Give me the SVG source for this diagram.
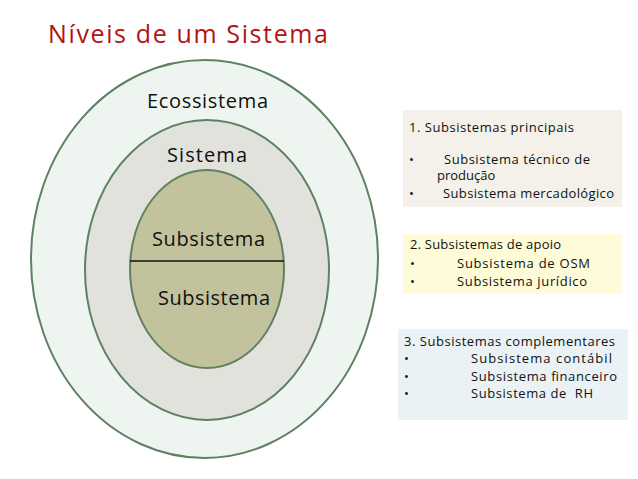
<svg xmlns="http://www.w3.org/2000/svg" width="638" height="479" viewBox="0 0 638 479">
<style>
.t{font-family:"Open Sans","Liberation Sans",sans-serif;fill:#111}
.lbl{font-size:20px}
.bx{font-size:13px}
.ring{stroke:#5e8063;stroke-width:2}
</style>
<rect width="638" height="479" fill="#ffffff"/>
<text x="48" y="43" font-family="Open Sans,Liberation Sans,sans-serif" font-size="25" fill="#b01414" textLength="280">Níveis de um Sistema</text>
<g id="ecossistema">
<ellipse cx="204.5" cy="259" rx="173.5" ry="199" fill="#eef5f0" class="ring"/>
<text class="t lbl" x="147" y="108" textLength="121">Ecossistema</text>
</g>
<g id="sistema">
<ellipse cx="207" cy="270" rx="122" ry="150" fill="#e2e2dd" class="ring"/>
<text class="t lbl" x="167" y="162" textLength="80">Sistema</text>
</g>
<g id="subsistema">
<ellipse cx="207" cy="269" rx="77" ry="99" fill="#c2c29c" class="ring"/>
<text class="t lbl" x="152" y="246" textLength="113">Subsistema</text>
<text class="t lbl" x="158" y="305" textLength="112">Subsistema</text>
</g>
<g id="connectors">
<line x1="130" y1="261" x2="284" y2="261" stroke="#111" stroke-width="1.3"/>
</g>
<g id="box1">
<rect x="403" y="110" width="219" height="97" fill="#f3f1e9"/>
<text class="t bx" x="409" y="132" textLength="165">1. Subsistemas principais</text>
<text class="t bx" x="409" y="164">•</text>
<text class="t bx" x="444" y="164" textLength="146">Subsistema técnico de</text>
<text class="t bx" x="437" y="180">produção</text>
<text class="t bx" x="409" y="198">•</text>
<text class="t bx" x="443" y="198" textLength="171">Subsistema mercadológico</text>
</g>
<g id="box2">
<rect x="403" y="234" width="219" height="60" fill="#fdfbd8"/>
<text class="t bx" x="410" y="249" textLength="151">2. Subsistemas de apoio</text>
<text class="t bx" x="410" y="268">•</text>
<text class="t bx" x="457" y="268" textLength="133">Subsistema de OSM</text>
<text class="t bx" x="410" y="286">•</text>
<text class="t bx" x="457" y="286" textLength="130">Subsistema jurídico</text>
</g>
<g id="box3">
<rect x="398" y="329" width="230" height="91" fill="#eaf2f5"/>
<text class="t bx" x="404" y="346" textLength="211">3. Subsistemas complementares</text>
<text class="t bx" x="404" y="363">•</text>
<text class="t bx" x="471" y="363" textLength="141">Subsistema contábil</text>
<text class="t bx" x="404" y="381">•</text>
<text class="t bx" x="471" y="381" textLength="146">Subsistema financeiro</text>
<text class="t bx" x="404" y="398">•</text>
<text class="t bx" x="471" y="398" textLength="122" xml:space="preserve">Subsistema de  RH</text>
</g>
</svg>
